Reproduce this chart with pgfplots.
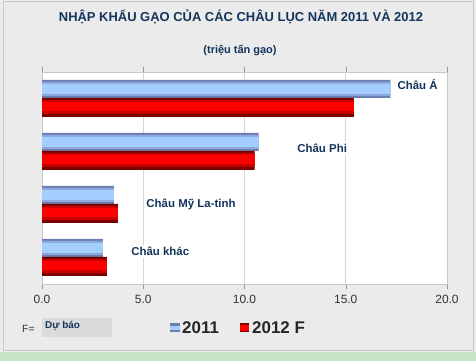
\documentclass[border=0pt]{standalone}
\usepackage{pgfplots}
\pgfplotsset{compat=1.18}
\usepackage{pgfplotstable}
\usepackage{fontspec}
\setmainfont{Liberation Sans}
\definecolor{navy}{HTML}{13355C}
\definecolor{bgray}{HTML}{EBEBEB}
\definecolor{bordergray}{HTML}{C8C8C8}
\definecolor{greenstrip}{HTML}{C8E4C8}
\definecolor{bluemid}{HTML}{A3CEFF}
\definecolor{bluemid2}{HTML}{8CA8DA}
\definecolor{blueedge}{HTML}{6D7EB2}
\definecolor{redmid}{HTML}{FF0000}
\definecolor{redmid2}{HTML}{C80000}
\definecolor{rededge}{HTML}{7A0000}
\definecolor{gridgray}{HTML}{D6D6D6}
\definecolor{ticktext}{HTML}{333333}
\pgfplotstableread{
y  v
0  3.0
1  3.55
2  10.7
3  17.2
}\datatwo
\pgfplotstableread{
y  v
0  3.2
1  3.75
2  10.5
3  15.4
}\datathree
\begin{document}
\begin{tikzpicture}[x=1bp,y=1bp]
\fill[greenstrip] (0,0) rectangle (476,9);
\fill[bgray] (0,9) rectangle (476,361);
\draw[bordergray, line width=1bp] (3,11) rectangle (473,359);
\node[font=\bfseries\fontsize{13}{15}\selectfont, text=navy] at (241,344) {NHẬP KHẨU GẠO CỦA CÁC CHÂU LỤC NĂM 2011 VÀ 2012};
\node[font=\bfseries\fontsize{11}{13}\selectfont, text=navy] at (240,311) {(triệu tấn gạo)};
\begin{axis}[
  at={(42bp,77bp)}, anchor=south west,
  scale only axis, width=405bp, height=212bp,
  xmin=0, xmax=20, ymin=-0.51, ymax=3.49,
  xtick={0,5,10,15,20}, ytick=\empty,
  xticklabel style={font=\fontsize{12}{14}\selectfont, text=ticktext, yshift=-3bp},
  /pgf/number format/.cd, fixed, fixed zerofill, precision=1, assume math mode=true, /pgfplots/.cd,
  tick align=outside, major tick length=5bp,
  xtick style={draw=gray!80},
  xmajorgrids, grid style={gridgray, line width=0.8bp},
  axis line style={draw=bordergray, line width=0.8bp},
  axis background/.style={fill=white},
  clip=false,
]
% 2011 layers
\addplot[xbar, bar width=18bp, bar shift=9bp, draw=none, fill=blueedge] table[x=v,y=y] {\datatwo};
\addplot[xbar, bar width=14bp, bar shift=9bp, draw=none, fill=bluemid2] table[x=v,y=y] {\datatwo};
\addplot[xbar, bar width=10bp, bar shift=9bp, draw=none, fill=bluemid] table[x=v,y=y] {\datatwo};
% 2012 layers
\addplot[xbar, bar width=19bp, bar shift=-9.5bp, draw=none, fill=rededge] table[x=v,y=y] {\datathree};
\addplot[xbar, bar width=14bp, bar shift=-9bp, draw=none, fill=redmid2] table[x=v,y=y] {\datathree};
\addplot[xbar, bar width=9bp, bar shift=-8.5bp, draw=none, fill=redmid] table[x=v,y=y] {\datathree};
\begin{scope}[every node/.style={font=\bfseries\fontsize{11.5}{13}\selectfont, text=navy, anchor=west, fill=white, inner sep=2bp}]
\node at (axis cs:17.45,3.25) {Châu Á};
\node at (axis cs:12.5,2.05) {Châu Phi};
\node at (axis cs:5.05,1.0) {Châu Mỹ La-tinh};
\node at (axis cs:4.3,0.1) {Châu khác};
\end{scope}
\end{axis}
% legend
\node[font=\fontsize{10.5}{12}\selectfont, text=ticktext, anchor=west, inner sep=0] at (22,32) {F=};
\fill[gray!28] (42,24) rectangle (112,43);
\node[font=\bfseries\fontsize{10}{12}\selectfont, text=navy, anchor=west, inner sep=0] at (45,35) {Dự báo};
\fill[blueedge] (170,29) rectangle (180,38);
\fill[bluemid] (170,31.5) rectangle (180,35.5);
\node[font=\bfseries\fontsize{17}{19}\selectfont, text=black!85, anchor=west, inner sep=0] at (182,33) {2011};
\fill[rededge] (240,29) rectangle (249,38);
\fill[redmid] (240,30.5) rectangle (249,36.5);
\node[font=\bfseries\fontsize{17}{19}\selectfont, text=black!85, anchor=west, inner sep=0] at (252,33) {2012 F};
\end{tikzpicture}
\end{document}
